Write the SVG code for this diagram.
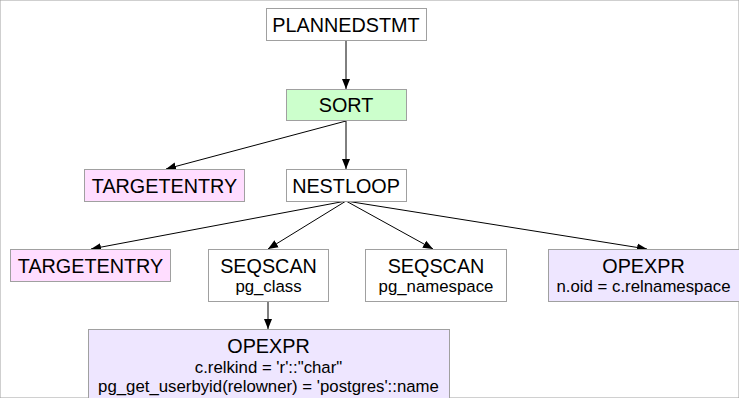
<svg xmlns="http://www.w3.org/2000/svg" width="739" height="398" viewBox="0 0 739 398">
<style>
rect{stroke:#a0a0a0;stroke-width:1}
.w{fill:#ffffff}.g{fill:#ccffcc}.p{fill:#ffddff}.l{fill:#eee6ff}
text{font-family:"Liberation Sans",Arial,sans-serif;fill:#000;text-anchor:middle}
.t{font-size:19.8px}.s{font-size:16.8px}
.c line{stroke:#000;stroke-width:1;marker-end:url(#a)}
</style>
<defs><marker id="a" viewBox="0 0 10 10" refX="10" refY="5" markerWidth="10" markerHeight="10" markerUnits="userSpaceOnUse" orient="auto"><path d="M0,1L10,5L0,9z" fill="#000"/></marker></defs>
<rect width="739" height="398" fill="#fff" stroke="none"/>
<g class="c">
<line x1="346" y1="40" x2="346" y2="89"/>
<line x1="346" y1="121" x2="166" y2="169"/>
<line x1="346" y1="121" x2="346" y2="169"/>
<line x1="346" y1="201" x2="91" y2="249"/>
<line x1="346" y1="201" x2="268" y2="249"/>
<line x1="346" y1="201" x2="433" y2="249"/>
<line x1="346" y1="201" x2="647" y2="249"/>
<line x1="268" y1="301" x2="268" y2="329"/>
</g>
<g id="plannedstmt"><rect class="w" x="266.5" y="8.5" width="160" height="32"/><text class="t" x="346" y="32">PLANNEDSTMT</text></g>
<g id="sort"><rect class="g" x="286.5" y="89.5" width="120" height="31"/><text class="t" x="346" y="112">SORT</text></g>
<g id="targetentry1"><rect class="p" x="84.5" y="169.5" width="160" height="32"/><text class="t" x="164.5" y="193">TARGETENTRY</text></g>
<g id="nestloop"><rect class="w" x="286.5" y="169.5" width="120" height="32"/><text class="t" x="346" y="193">NESTLOOP</text></g>
<g id="targetentry2"><rect class="p" x="10.5" y="249.5" width="160" height="32"/><text class="t" x="90.5" y="273">TARGETENTRY</text></g>
<g id="seqscan1"><rect class="w" x="208.5" y="249.5" width="120" height="52"/><text class="t" x="268.5" y="273">SEQSCAN</text><text class="s" x="268.5" y="292">pg_class</text></g>
<g id="seqscan2"><rect class="w" x="365.5" y="249.5" width="141" height="52"/><text class="t" x="436" y="273">SEQSCAN</text><text class="s" x="436" y="292">pg_namespace</text></g>
<g id="opexpr1"><rect class="l" x="548.5" y="249.5" width="191" height="52"/><text class="t" x="643.5" y="273">OPEXPR</text><text class="s" x="643.5" y="292">n.oid = c.relnamespace</text></g>
<g id="opexpr2"><rect class="l" x="88.5" y="329.5" width="361" height="72"/><text class="t" x="268.5" y="353">OPEXPR</text><text class="s" x="268.5" y="373">c.relkind = 'r'::"char"</text><text class="s" x="268.5" y="392">pg_get_userbyid(relowner) = 'postgres'::name</text></g>
</svg>
